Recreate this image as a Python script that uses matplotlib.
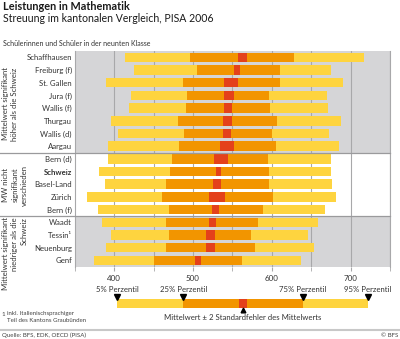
import numpy as np
import matplotlib.pyplot as plt

plt.rcParams['font.family'] = ['Lato', 'DejaVu Sans']

# Daten
cantons = ["Schaffhausen", "Freiburg (f)", "St. Gallen", "Jura (f)", "Wallis (f)",
           "Thurgau", "Wallis (d)", "Aargau", "Bern (d)", "Schweiz", "Basel-Land",
           "Zürich", "Bern (f)", "Waadt", "Tessin¹", "Neuenburg", "Genf"]
p5 = [414, 425, 390, 422, 419, 396, 405, 392, 392, 381, 389, 366, 380, 385, 396, 390, 374]
p25 = [496, 505, 487, 493, 491, 481, 489, 482, 474, 471, 466, 461, 470, 466, 469, 466, 451]
ci_low = [557, 552, 540, 540, 540, 538, 538, 534, 527, 529, 526, 521, 524, 520, 516, 516, 502]
ci_high = [568, 560, 557, 552, 549, 550, 548, 552, 544, 535, 536, 541, 533, 529, 528, 528, 510]
p75 = [628, 610, 611, 597, 598, 607, 600, 606, 595, 596, 597, 602, 589, 583, 574, 579, 562]
p95 = [717, 675, 691, 670, 671, 688, 673, 685, 675, 675, 676, 681, 667, 659, 646, 654, 637]

groups = ["Mittelwert signifikant\nhöher als die Schweiz",
          "MW nicht\nsignifikant\nverschieden",
          "Mittelwert signifikant\nniedriger als die\nSchweiz"]
group_sizes = [8, 5, 4]

# Legende: Beispielbalken
leg_vals = [404, 488, 558, 569, 639, 722]
leg_labels = ["5% Perzentil", "25% Perzentil", "75% Perzentil", "95% Perzentil"]

YELLOW = '#FED43F'
ORANGE = '#F29500'
RED = '#E4411B'
GRAYBG = '#D5D5D7'
GRID = '#A8A8AA'

fig = plt.figure(figsize=(4.0, 3.39), dpi=100)
W, H = 400, 339

def fx(px):
    return px / W

def fy(py):
    return 1 - py / H

ax = fig.add_axes([fx(74.7), fy(266.7), fx(390) - fx(74.7), fy(51) - fy(266.7)])
n = len(cantons)
y = np.arange(n)
p5, p25, p75, p95 = map(np.array, (p5, p25, p75, p95))
ci_low, ci_high = np.array(ci_low), np.array(ci_high)

# Hintergrund der Gruppen
bounds = np.cumsum([0] + group_sizes) - 0.5
ax.axhspan(bounds[0], bounds[1], color=GRAYBG, zorder=0, lw=0)
ax.axhspan(bounds[2], bounds[3], color=GRAYBG, zorder=0, lw=0)

for xv in range(400, 751, 50):
    ax.axvline(xv, color=GRID, lw=0.8, zorder=1)

h = 0.75
ax.barh(y, p95 - p5, left=p5, height=h, color=YELLOW, zorder=2)
ax.barh(y, p75 - p25, left=p25, height=h, color=ORANGE, zorder=3)
ax.barh(y, ci_high - ci_low, left=ci_low, height=h, color=RED, zorder=4)

# Trennlinien zwischen Gruppen
for b in bounds[1:-1]:
    ax.plot([-0.237, 1], [b, b], transform=ax.get_yaxis_transform(),
            color='#9A9A9C', lw=0.9, clip_on=False, zorder=5)

ax.set_xlim(350, 750)
ax.set_ylim(n - 0.5, -0.5)
ax.set_yticks(y)
ax.set_yticklabels(cantons, fontsize=5.6, color='#333333')
ax.tick_params(axis='y', length=0, pad=2)
for lab in ax.get_yticklabels():
    if lab.get_text() == "Schweiz":
        lab.set_fontweight('bold')

ax.set_xticks([400, 500, 600, 700])
ax.set_xticks(np.arange(350, 751, 50), minor=True)
ax.tick_params(axis='x', which='both', length=3, color=GRID, direction='out',
               labelsize=5.8, labelcolor='#333333', pad=3)
ax.spines['top'].set_visible(False)
ax.spines['bottom'].set_visible(False)
ax.spines['left'].set_color(GRID)
ax.spines['left'].set_linewidth(0.8)
ax.spines['right'].set_color(GRID)
ax.spines['right'].set_linewidth(0.8)

# Gruppenbeschriftungen
fig.text(fx(1.7), fy(104), groups[0], rotation=90, ha='left', va='center',
         fontsize=5.6, linespacing=1.45, color='#333333', multialignment='center')
fig.text(fx(1.7), fy(185), groups[1], rotation=90, ha='left', va='center',
         fontsize=5.6, linespacing=1.45, color='#333333', multialignment='center')
fig.text(fx(1.7), fy(217), groups[2], rotation=90, ha='left', va='top',
         fontsize=5.6, linespacing=1.45, color='#333333', multialignment='right')

# Titel
fig.text(fx(3), fy(7), "Leistungen in Mathematik", fontsize=7.8, fontweight='bold',
         va='center', ha='left', color='#1a1a1a')
fig.text(fx(3), fy(18.5), "Streuung im kantonalen Vergleich, PISA 2006", fontsize=7.6,
         va='center', ha='left', color='#1a1a1a')
fig.text(fx(3), fy(43), "Schülerinnen und Schüler in der neunten Klasse", fontsize=5.0,
         va='center', ha='left', color='#333333')

# Legende
lax = fig.add_axes([fx(74.7), fy(322), fx(390) - fx(74.7), fy(284) - fy(322)])
lax.set_xlim(350, 750)
lax.set_ylim(322, 284)
lax.axis('off')
lax.barh(303.6, leg_vals[5] - leg_vals[0], left=leg_vals[0], height=8.7, color=YELLOW)
lax.barh(303.6, leg_vals[4] - leg_vals[1], left=leg_vals[1], height=8.7, color=ORANGE)
lax.barh(303.6, leg_vals[3] - leg_vals[2], left=leg_vals[2], height=8.7, color=RED)
pct_x = [leg_vals[0], leg_vals[1], leg_vals[4], leg_vals[5]]
lax.plot(pct_x, [296.5] * 4, 'v', color='black', markersize=4.0, clip_on=False)
for xv, lab in zip(pct_x, leg_labels):
    lax.text(xv, 289.5, lab, ha='center', va='center', fontsize=5.6, color='#333333')
mid = (leg_vals[2] + leg_vals[3]) / 2
lax.plot([mid], [310.2], '^', color='black', markersize=3.4, clip_on=False)
lax.text(mid, 317.5, "Mittelwert ± 2 Standardfehler des Mittelwerts", ha='center',
         va='center', fontsize=5.6, color='#333333')

# Fussnote und Quelle
fig.text(fx(1.7), fy(314), "1", fontsize=4.4, va='center', ha='left', color='#444444')
fig.text(fx(7.3), fy(314), "inkl. Italienischsprachiger", fontsize=4.4, va='center',
         ha='left', color='#444444')
fig.text(fx(7.3), fy(320.5), "Teil des Kantons Graubünden", fontsize=4.4, va='center',
         ha='left', color='#444444')
fig.add_artist(plt.Line2D([0, 1], [fy(329.7), fy(329.7)], color='#C8C8C8', lw=1.5))
fig.text(fx(1.7), fy(335.5), "Quelle: BFS, EDK, OECD (PISA)", fontsize=4.4, va='center',
         ha='left', color='#444444')
fig.text(fx(398), fy(335.5), "© BFS", fontsize=4.4, va='center', ha='right', color='#444444')

plt.savefig('out.png', dpi=100)
plt.close()
